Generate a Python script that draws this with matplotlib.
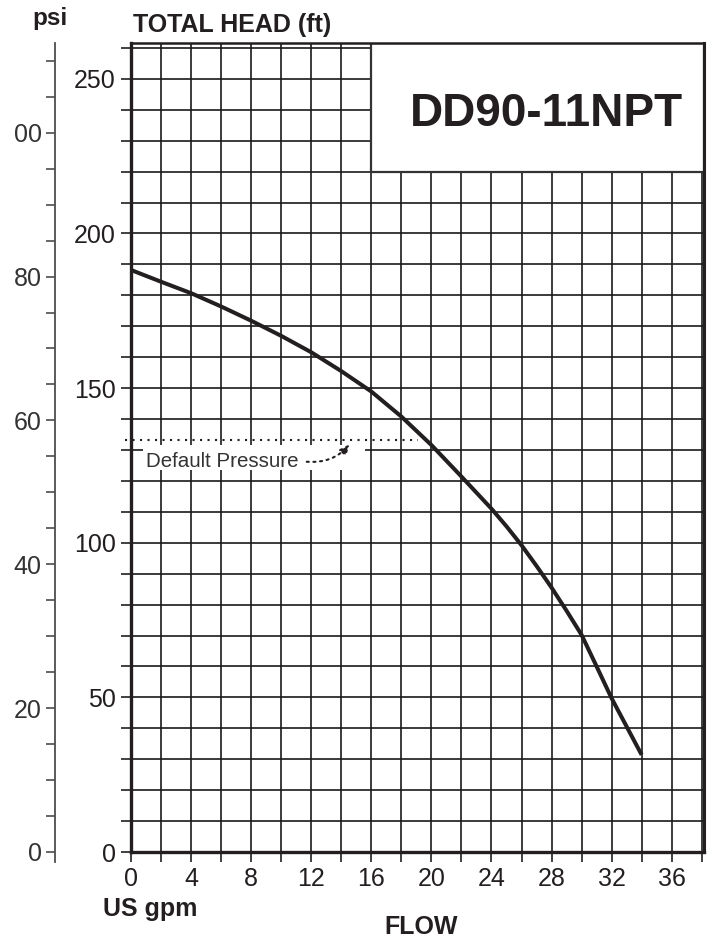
import matplotlib
matplotlib.use("Agg")
import matplotlib.pyplot as plt
from matplotlib.patches import Rectangle
from matplotlib.ticker import FixedLocator, MultipleLocator, FuncFormatter

plt.rcParams['font.family'] = ['Liberation Sans', 'DejaVu Sans']

# ---- data ----
flow_gpm = [0, 2, 4, 6, 8, 10, 12, 14, 16, 18, 20, 22, 24, 25, 26, 27, 28, 29, 30, 31, 32, 34]
head_ft = [188.2, 184.4, 180.7, 176.4, 171.8, 166.9, 161.6, 155.5, 148.9, 140.8,
           131.6, 121.4, 111.0, 105.3, 99.2, 92.5, 85.5, 78.0, 70.2, 60.0, 49.7, 31.4]
x_ticks = [0, 4, 8, 12, 16, 20, 24, 28, 32, 36]
ft_ticks = [0, 50, 100, 150, 200, 250]
psi_ticks = [0, 20, 40, 60, 80, 100]
psi_labels = ['0', '20', '40', '60', '80', '00']
default_pressure_ft = 133.2
default_line_end_gpm = 19.1
model_name = "DD90-11NPT"

W, H = 710, 941
XMAX, YMAX = 38.15, 261.6
FT_PER_PSI = 2.326
INK = '#231f20'

fig = plt.figure(figsize=(W / 100, H / 100), dpi=100)

def fx(px):
    return px / W

def fy(py):
    return 1 - py / H

# main axes
ax = fig.add_axes([fx(131), fy(852), (704 - 131) / W, (852 - 43) / H])
ax.set_xlim(0, XMAX)
ax.set_ylim(0, YMAX)
ax.xaxis.set_major_locator(MultipleLocator(2))
ax.yaxis.set_major_locator(MultipleLocator(10))
ax.xaxis.set_major_formatter(FuncFormatter(lambda v, p: f"{int(round(v))}" if int(round(v)) in x_ticks else ""))
ax.yaxis.set_major_formatter(FuncFormatter(lambda v, p: f"{int(round(v))}" if int(round(v)) in ft_ticks else ""))
ax.tick_params(axis='both', direction='out', length=7, width=1.2, color=INK,
               labelsize=18, labelcolor=INK)
ax.tick_params(axis='x', pad=3.5)
ax.tick_params(axis='y', pad=4)
ax.set_axisbelow(True)
ax.grid(True, color='#1a1a1a', lw=1.2)
for s, lw in [('left', 2.4), ('bottom', 2.4), ('right', 2.2), ('top', 1.8)]:
    ax.spines[s].set_linewidth(lw)
    ax.spines[s].set_color(INK)

# model box
ax.add_patch(Rectangle((16, 220), XMAX - 16, YMAX - 220, facecolor='white',
                       edgecolor='#333333', lw=1.6, zorder=2))
fig.text(fx(546), fy(126), model_name, fontsize=33, fontweight='bold', color=INK,
         ha='center', va='baseline')

# pump curve
ax.plot(flow_gpm, head_ft, color=INK, lw=2.9, solid_capstyle='butt',
        solid_joinstyle='round', zorder=3)

# default pressure
ax.add_patch(Rectangle((0.8, 123.5), 14.8, 8.1, facecolor='white', edgecolor='none', zorder=1.5))
ax.plot([-0.4, default_line_end_gpm], [default_pressure_ft, default_pressure_ft],
        color=INK, lw=1.5, linestyle=(0, (1, 2.6)), clip_on=False, zorder=2.5)
ax.text(1.0, 124.5, "Default Pressure", fontsize=14.8, color='#333333',
        ha='left', va='baseline', zorder=2.6)
ax.annotate("", xy=(14.58, 131.9), xytext=(11.7, 126.2),
            arrowprops=dict(arrowstyle='-|>,head_length=0.6,head_width=0.25', color=INK,
                            lw=1.5, linestyle=(0, (1, 2.2)),
                            connectionstyle='arc3,rad=0.25', shrinkA=0, shrinkB=0),
            zorder=2.6)

# psi axis
axp = fig.add_axes([fx(55), fy(862), 0.0005, (862 - 43) / H])
axp.set_facecolor('none')
bottom_psi = -10 / 3.092 / FT_PER_PSI
axp.set_ylim(bottom_psi, YMAX / FT_PER_PSI)
for s in ['top', 'right', 'bottom']:
    axp.spines[s].set_visible(False)
axp.spines['left'].set_color('#4d4d4d')
axp.spines['left'].set_linewidth(1.3)
axp.xaxis.set_visible(False)
axp.set_yticks(psi_ticks)
axp.set_yticklabels(psi_labels)
axp.yaxis.set_minor_locator(FixedLocator([v for v in range(5, 115, 5) if v % 20 != 0]))
axp.tick_params(axis='y', which='both', direction='out', length=6.5, width=1.2,
                color='#4d4d4d', labelsize=18, labelcolor='#333333', pad=3)

# axis titles
fig.text(fx(32), fy(25), "psi", fontsize=17.5, fontweight='bold', color=INK, ha='left', va='baseline')
fig.text(fx(133), fy(32), "TOTAL HEAD (ft)", fontsize=18, fontweight='bold', color=INK, ha='left', va='baseline')
fig.text(fx(103), fy(916), "US gpm", fontsize=18, fontweight='bold', color=INK, ha='left', va='baseline')
fig.text(fx(421), fy(934), "FLOW", fontsize=18, fontweight='bold', color=INK, ha='center', va='baseline')

fig.savefig("out.png", dpi=100, facecolor='white')
